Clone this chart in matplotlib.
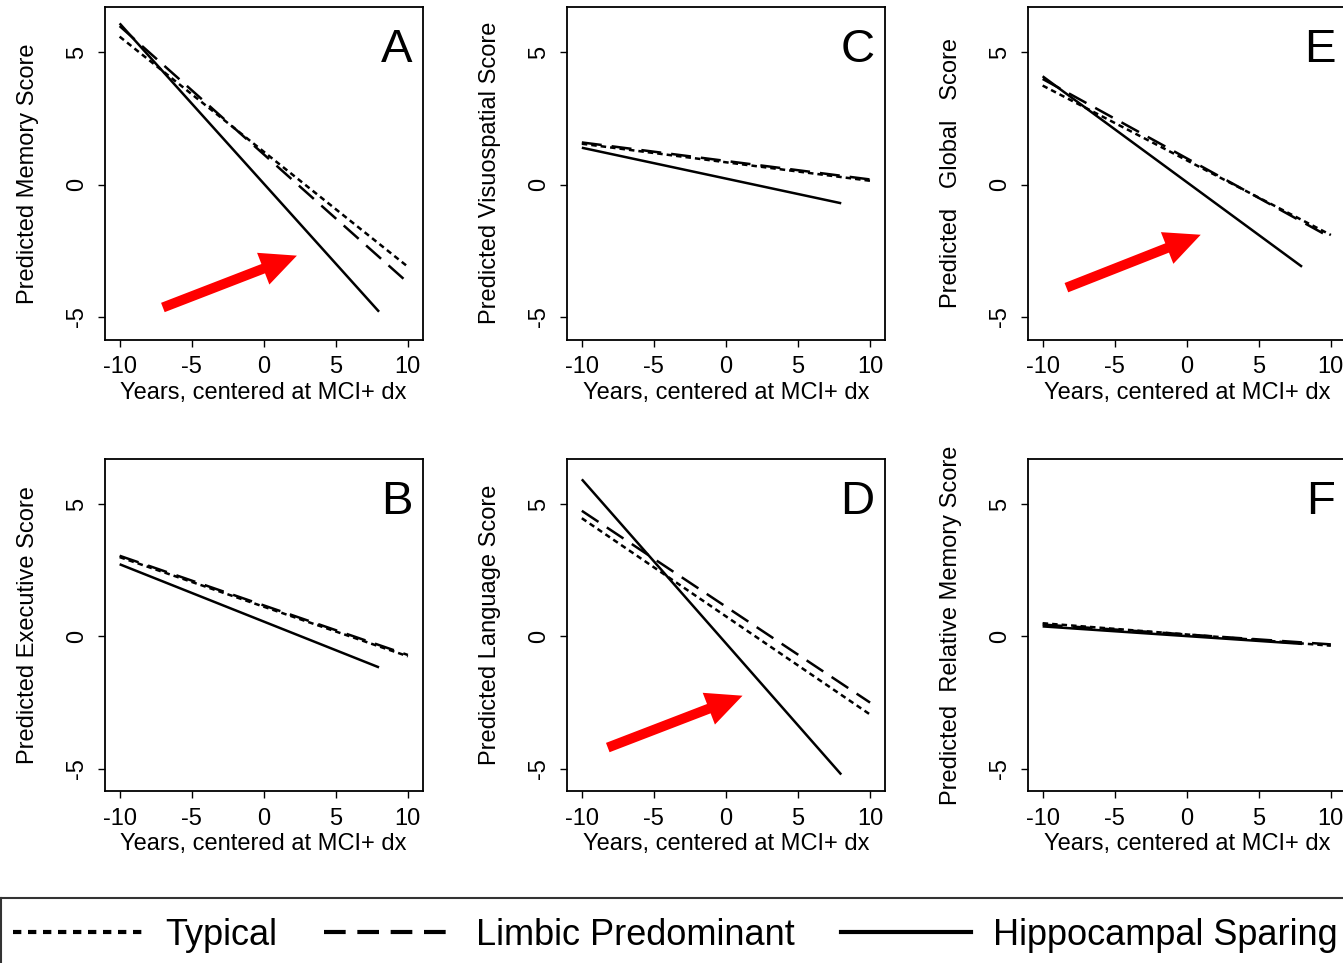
import matplotlib
matplotlib.use("Agg")
import matplotlib.pyplot as plt
from matplotlib.lines import Line2D

plt.rcParams["font.family"] = ["Liberation Sans", "DejaVu Sans"]
plt.rcParams["axes.unicode_minus"] = False

# predicted trajectories, years relative to MCI+ diagnosis
years = [-10, 10]
years_hs = [-10, 8]

memory_typical = [5.6, -3.1]
memory_limbic = [6.0, -3.7]
memory_hs = [6.1, -4.8]

executive_typical = [3.0, -0.75]
executive_limbic = [3.05, -0.7]
executive_hs = [2.73, -1.17]

visuospatial_typical = [1.55, 0.15]
visuospatial_limbic = [1.6, 0.2]
visuospatial_hs = [1.4, -0.7]

language_typical = [4.47, -2.95]
language_limbic = [4.75, -2.5]
language_hs = [5.94, -5.22]

global_typical = [3.75, -1.9]
global_limbic = [4.0, -2.0]
global_hs = [4.1, -3.1]

relmemory_typical = [0.5, -0.35]
relmemory_limbic = [0.45, -0.3]
relmemory_hs = [0.38, -0.28]

subtypes = ["Typical", "Limbic Predominant", "Hippocampal Sparing"]
x_ticks = [-10, -5, 0, 5, 10]
y_ticks = [-5, 0, 5]

W, H = 1343, 963
DOTTED = (0, (2.2, 1.6))
DASHED = (0, (8, 4))

panels = [
    ("A", "Predicted Memory Score", memory_typical, memory_limbic, memory_hs),
    ("B", "Predicted Executive Score", executive_typical, executive_limbic, executive_hs),
    ("C", "Predicted Visuospatial Score", visuospatial_typical, visuospatial_limbic, visuospatial_hs),
    ("D", "Predicted Language Score", language_typical, language_limbic, language_hs),
    ("E", "Predicted   Global   Score", global_typical, global_limbic, global_hs),
    ("F", "Predicted  Relative Memory Score", relmemory_typical, relmemory_limbic, relmemory_hs),
]

# pixel boxes for the 3x2 grid
col_left = [104.5, 566.7, 1027.5]
row_top = [7, 458.7]
box_w, box_h = 318.5, 332.5

# red arrows (tail, head) in data units
arrows = {
    "A": ((-7.0, -4.64), (2.3, -2.68)),
    "D": ((-8.2, -4.2), (1.15, -2.24)),
    "E": ((-8.35, -3.89), (0.97, -1.89)),
}

fig = plt.figure(figsize=(W / 100, H / 100), dpi=100)

for i, (letter, ylabel, typ, lim, hs) in enumerate(panels):
    col, row = i // 2, i % 2
    left = col_left[col]
    top = row_top[row]
    ax = fig.add_axes([left / W, 1 - (top + box_h) / H, box_w / W, box_h / H])

    ax.plot(years, typ, color="black", lw=1.8, linestyle=DOTTED)
    ax.plot(years, lim, color="black", lw=1.8, linestyle=DASHED)
    ax.plot(years_hs, hs, color="black", lw=1.8, solid_capstyle="butt")

    ax.set_xlim(-11.05, 11.05)
    ax.set_ylim(-5.85, 6.72)
    ax.set_xticks(x_ticks)
    ax.set_yticks(y_ticks)
    ax.set_xticklabels([str(v) for v in x_ticks])
    ax.set_yticklabels([str(v) for v in y_ticks], rotation=90, va="center")
    ax.tick_params(direction="out", length=5, width=1, labelsize=17)
    ax.tick_params(axis="x", pad=7)
    ax.tick_params(axis="y", pad=7)
    for sp in ax.spines.values():
        sp.set_linewidth(1.3)

    ax.set_xlabel("Years, centered at MCI+ dx", fontsize=17, labelpad=2.5)
    ax.set_ylabel(ylabel, fontsize=17)
    ax.yaxis.set_label_coords(-0.207, 0.5)

    ax.text(0.967, 0.835, letter, transform=ax.transAxes, fontsize=34,
            ha="right", va="baseline")

    if letter in arrows:
        tail, head = arrows[letter]
        ax.annotate("", xy=head, xytext=tail,
                    arrowprops=dict(arrowstyle="simple,head_length=2.6,head_width=2.45,tail_width=0.72",
                                    mutation_scale=10, color="red", lw=0,
                                    shrinkA=0, shrinkB=0))

# legend strip along the bottom
leg_ax = fig.add_axes([1 / W, -0.2, 1.2, 0.2 + (H - 898) / H])
leg_ax.set_xticks([])
leg_ax.set_yticks([])
for sp in leg_ax.spines.values():
    sp.set_linewidth(1.5)
    sp.set_color("#333333")

handles = [
    Line2D([], [], color="black", lw=3, linestyle=(0, (2.0, 1.6))),
    Line2D([], [], color="black", lw=3, linestyle=(0, (5.2, 2.8))),
    Line2D([], [], color="black", lw=3),
]
leg_ax.legend(handles, subtypes, loc="center left", ncol=3, frameon=False,
              fontsize=26, handlelength=3.6, handletextpad=0.62,
              columnspacing=1.28, borderpad=0, borderaxespad=0,
              bbox_to_anchor=(13 / W, 1 - 935 / H), bbox_transform=fig.transFigure)

fig.savefig("out.png", dpi=100)
